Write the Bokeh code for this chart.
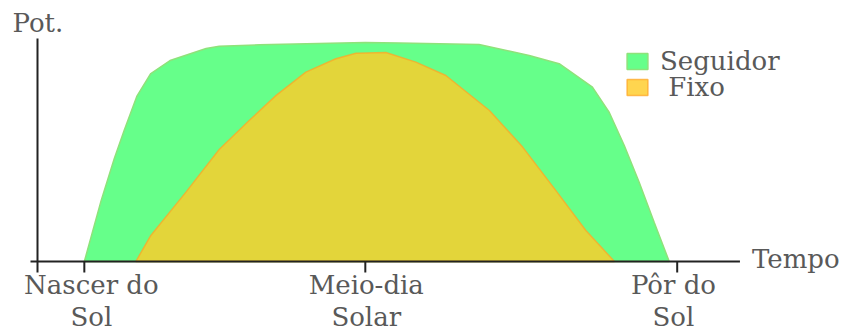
from bokeh.plotting import figure
from bokeh.models import Range1d, Legend, LegendItem
from bokeh.core.properties import value
from bokeh.embed import file_html
from bokeh.resources import INLINE

# ---- data (time in hours, power in % of maximum) ----
seguidor_t = [6.00, 6.36, 6.64, 6.85, 7.12, 7.42, 7.83, 8.60, 8.88, 9.74, 12.00,
              12.73, 14.43, 15.50, 16.14, 16.85, 17.21, 17.53, 17.85, 18.17, 18.49]
seguidor_p = [0.0, 27.4, 46.2, 58.7, 74.0, 84.3, 90.1, 95.5, 96.5, 97.2, 98.2,
              98.0, 97.3, 92.4, 88.7, 78.2, 66.8, 52.0, 35.4, 17.5, 0.0]

fixo_t = [7.10, 7.42, 8.17, 8.88, 9.52, 10.09, 10.73, 11.37, 11.80, 12.44, 13.08,
          13.72, 14.65, 15.36, 16.07, 16.71, 17.32]
fixo_p = [0.0, 11.7, 31.1, 50.2, 63.2, 74.4, 84.9, 90.9, 93.4, 93.7, 89.4,
          83.4, 67.7, 51.3, 31.8, 13.9, 0.0]

origin = 5.0
x_end = 20.0
p_max = 100.0
tick_pos = [5.0, 6.0, 12.0, 18.66]
tick_label_pos = [6.15, 12.02, 18.58]
tick_labels = ["Nascer do\nSol", "Meio-dia\nSolar", "Pôr do\nSol"]
series_names = ["Seguidor", " Fixo"]
y_label = "Pot."
x_label = "Tempo"

FONT = value("DejaVu Serif")
FSIZE = value("26px")
TXT = "#595959"
AX = "#222222"

W, H = 843, 331
PX_PER_H = 46.83
PX_PER_P = 2.23
x0 = origin - 37 / PX_PER_H
y0 = -70 / PX_PER_P
p = figure(width=W, height=H, output_backend="svg", toolbar_location=None,
           x_range=Range1d(x0, x0 + W / PX_PER_H),
           y_range=Range1d(y0, y0 + H / PX_PER_P),
           min_border=0, x_axis_type=None, y_axis_type=None)
p.outline_line_color = None
p.grid.visible = False
p.background_fill_color = "white"
p.border_fill_color = "white"

# areas
r_seg = p.patch(seguidor_t, seguidor_p, fill_color="#66ff8a",
                line_color="#8fe27a", line_width=1.5)
r_fix = p.patch(fixo_t, fixo_p, fill_color="#ffcc28", fill_alpha=0.82,
                line_color="#ffa726", line_alpha=0.75, line_width=1.5)

# axes (drawn through the data scales)
tick_len = 11 / PX_PER_P
x_start = origin - 7 / PX_PER_H
p.segment(x0=[x_start], y0=[0], x1=[x_end], y1=[0], line_color=AX, line_width=2)
p.segment(x0=[origin], y0=[0], x1=[origin], y1=[p_max], line_color=AX, line_width=2)
p.segment(x0=tick_pos, y0=[0] * len(tick_pos), x1=tick_pos,
          y1=[-tick_len] * len(tick_pos), line_color=AX, line_width=2)

p.text(x=tick_label_pos, y=[0] * len(tick_label_pos), text=tick_labels,
       text_font=FONT, text_font_size=FSIZE, text_color=TXT, text_align="center",
       text_baseline="top", text_line_height=1.09, y_offset=8)
p.text(x=[origin], y=[p_max], text=[y_label], text_font=FONT, text_font_size=FSIZE,
       text_color=TXT, text_align="left", text_baseline="alphabetic",
       x_offset=-25, y_offset=-16)
p.text(x=[x_end], y=[0], text=[x_label], text_font=FONT, text_font_size=FSIZE,
       text_color=TXT, text_align="left", text_baseline="alphabetic",
       x_offset=12, y_offset=-3)

common = dict(padding=0, margin=0, spacing=0, glyph_width=26, glyph_height=20,
              label_standoff=10, label_text_font="DejaVu Serif",
              label_text_font_size="26px", label_text_color=TXT,
              background_fill_alpha=0, border_line_color=None)
leg1 = Legend(items=[LegendItem(label=series_names[0], renderers=[r_seg])],
              location=(624, 255), **common)
leg2 = Legend(items=[LegendItem(label=series_names[1], renderers=[r_fix])],
              location=(624, 229), **common)
p.add_layout(leg1)
p.add_layout(leg2)

open("out.html", "w").write(file_html(p, INLINE))
